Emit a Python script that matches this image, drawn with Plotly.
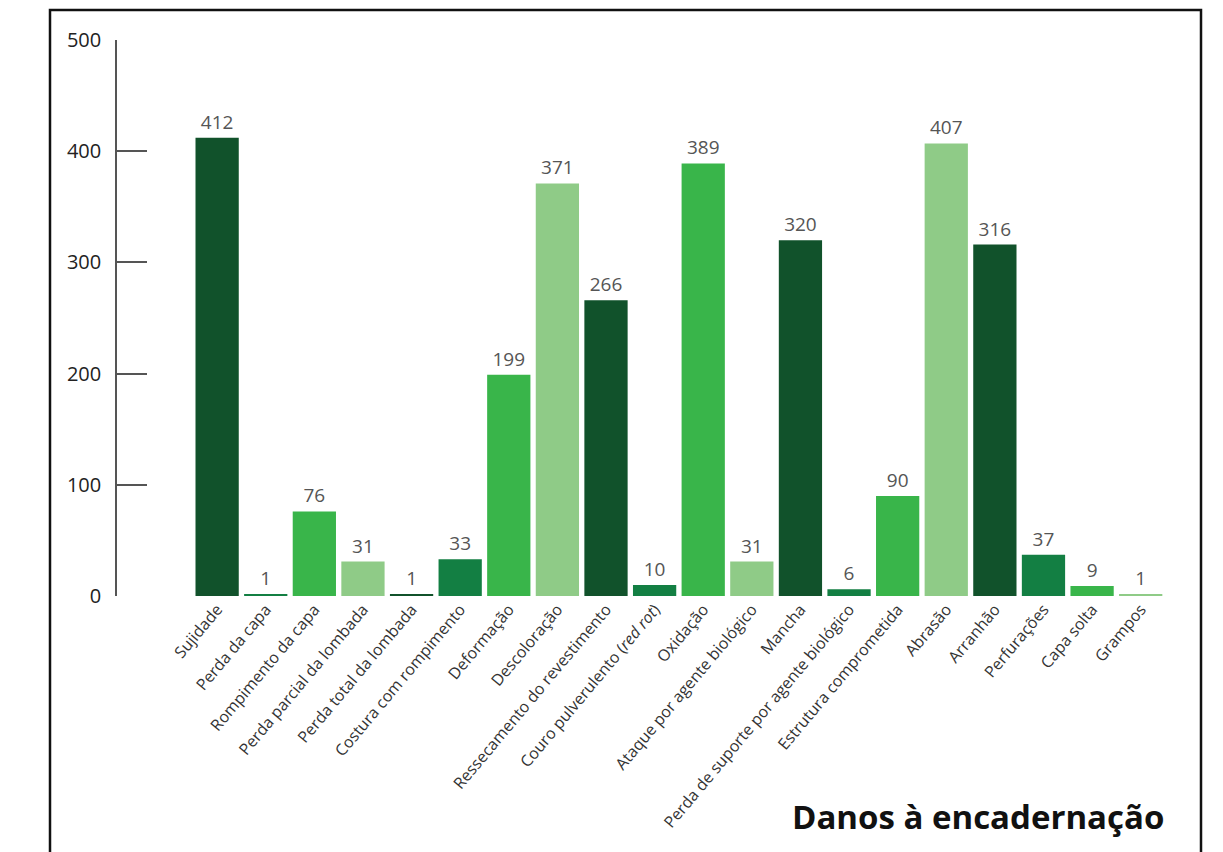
import plotly.graph_objects as go

# Tipos de dano à encadernação e quantidade de ocorrências
categorias = [
    "Sujidade",
    "Perda da capa",
    "Rompimento da capa",
    "Perda parcial da lombada",
    "Perda total da lombada",
    "Costura com rompimento",
    "Deformação",
    "Descoloração",
    "Ressecamento do revestimento",
    "Couro pulverulento (<i>red rot</i>)",
    "Oxidação",
    "Ataque por agente biológico",
    "Mancha",
    "Perda de suporte por agente biológico",
    "Estrutura comprometida",
    "Abrasão",
    "Arranhão",
    "Perfurações",
    "Capa solta",
    "Grampos",
]
valores = [412, 1, 76, 31, 1, 33, 199, 371, 266, 10, 389, 31, 320, 6, 90, 407, 316, 37, 9, 1]

# Paleta de verdes repetida em ciclo de quatro
paleta = ["#11522b", "#137f43", "#39b54a", "#8fcb87"]
cores = [paleta[i % 4] for i in range(len(categorias))]

y_ticks = [0, 100, 200, 300, 400, 500]
titulo = "Danos à encadernação"

FONT = "Open Sans"
AXIS_COLOR = "#555555"

fig = go.Figure(
    go.Bar(
        x=list(range(len(categorias))),
        y=valores,
        marker=dict(color=cores, line=dict(width=0)),
        text=[str(v) for v in valores],
        textposition="outside",
        textfont=dict(family=FONT, size=19, color="#555555"),
        cliponaxis=False,
        width=0.89,
    )
)

fig.update_xaxes(
    range=[-2.06, len(categorias) - 0.5],
    tickmode="array",
    tickvals=list(range(len(categorias))),
    ticktext=categorias,
    tickangle=-50,
    tickfont=dict(family=FONT, size=16, color="#333333"),
    showline=False,
    showgrid=False,
    zeroline=False,
    ticks="",
)

fig.update_yaxes(
    range=[0, 500],
    tickmode="array",
    tickvals=y_ticks,
    ticks="inside",
    ticklen=30,
    tickwidth=1.5,
    tickcolor=AXIS_COLOR,
    showline=True,
    linecolor=AXIS_COLOR,
    linewidth=1.5,
    showgrid=False,
    zeroline=False,
    tickfont=dict(family=FONT, size=20, color="#222222"),
    ticklabelstandoff=10,
)

# Moldura preta em volta do gráfico
L, R, T, B = 117, 58, 40, 256
W, H = 1223, 852
pw, ph = W - L - R, H - T - B


def px_to_paper_x(px):
    return (px - L) / pw


def px_to_paper_y(py):
    return (H - B - py) / ph


fig.add_shape(
    type="rect",
    xref="paper",
    yref="paper",
    x0=px_to_paper_x(50),
    x1=px_to_paper_x(1201),
    y0=px_to_paper_y(900),
    y1=px_to_paper_y(10),
    line=dict(color="#111111", width=2.5),
    layer="above",
)

fig.add_annotation(
    text=f"<b>{titulo}</b>",
    xref="paper",
    yref="paper",
    x=px_to_paper_x(1166),
    y=px_to_paper_y(816),
    xanchor="right",
    yanchor="middle",
    showarrow=False,
    font=dict(family=FONT, size=33, color="#111111"),
)

fig.update_layout(
    width=W,
    height=H,
    margin=dict(l=L, r=R, t=T, b=B, autoexpand=False),
    paper_bgcolor="white",
    plot_bgcolor="white",
    showlegend=False,
)

fig.write_html("out.html")
